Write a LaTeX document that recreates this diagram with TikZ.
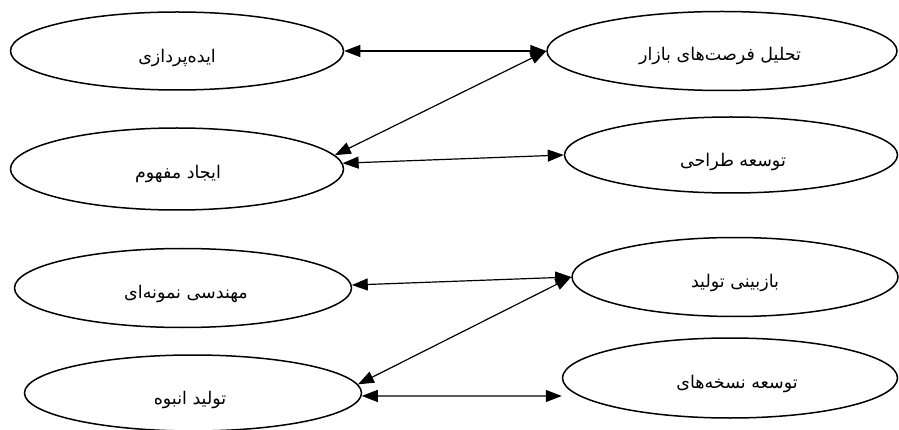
\documentclass[tikz,border=0pt]{standalone}
\usepackage{fontspec}
\usetikzlibrary{shapes.geometric,arrows.meta}
\TeXXeTstate=1
\newfontfamily\arabicfont[Script=Arabic]{DejaVu Sans}
\begin{document}
\begin{tikzpicture}[x=1pt,y=-1pt,
  oval/.style={draw=black,line width=1.5pt,ellipse,inner sep=0pt},
  lbl/.style={inner sep=0pt,font=\arabicfont\fontsize{17.5}{20}\selectfont},
  link/.style={line width=1.2pt,{Triangle[length=16pt,width=12pt]}-{Triangle[length=16pt,width=12pt]}}]
\useasboundingbox (0,0) rectangle (899,430);
\node[oval,minimum width=333pt,minimum height=78pt] (e1) at (177,51) {};
\node[oval,minimum width=333pt,minimum height=82pt] (e2) at (177,169) {};
\node[oval,minimum width=350pt,minimum height=79pt] (e3) at (722,51) {};
\node[oval,minimum width=333pt,minimum height=76pt] (e4) at (731,155) {};
\node[oval,minimum width=337pt,minimum height=79pt] (e5) at (183,288) {};
\node[oval,minimum width=337pt,minimum height=76pt] (e6) at (193,393) {};
\node[oval,minimum width=326pt,minimum height=79pt] (e7) at (735,277) {};
\node[oval,minimum width=335pt,minimum height=80pt] (e8) at (730,378) {};
\node[lbl] (t1) at (177,58) {\beginR ایده‌پردازی\endR};
\node[lbl] (t2) at (178,174) {\beginR ایجاد مفهوم\endR};
\node[lbl] (t3) at (720,56) {\beginR تحلیل فرصت‌های بازار\endR};
\node[lbl] (t4) at (733,162) {\beginR توسعه طراحی\endR};
\node[lbl] (t5) at (186,294) {\beginR مهندسی نمونه‌ای\endR};
\node[lbl] (t6) at (190,400) {\beginR تولید انبوه\endR};
\node[lbl] (t7) at (735,283) {\beginR بازبینی تولید\endR};
\node[lbl] (t8) at (737,384) {\beginR توسعه نسخه‌های\endR};
\draw[link] (e1.east) -- (e3.west);
\draw[link] (e2.5) -- (e3.west);
\draw[link] (e2.2) -- (e4.west);
\draw[link] (e5.1) -- (e7.west);
\draw[link] (e6.3) -- (e7.west);
\draw[link] (e6.-1) -- ([yshift=-18pt]e8.west);
\end{tikzpicture}
\end{document}
